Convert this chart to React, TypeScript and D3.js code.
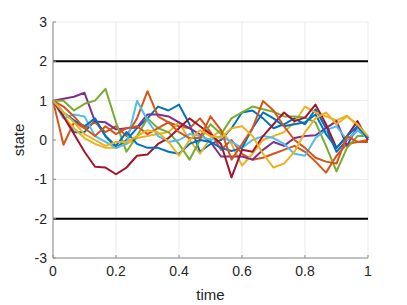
import * as d3 from "d3";

// time grid: 31 samples, step 1/30
const timeSteps = d3.range(31).map((k) => k / 30);

const xTicks = [0, 0.2, 0.4, 0.6, 0.8, 1];
const yTicks = [-3, -2, -1, 0, 1, 2, 3];
const bounds = [2, -2];

const blueA = [1, 0.6, 0.2, 0.2, 0.5, 0.1, -0.2, 0, 0.3, 0.55, 0.85, 0.75, 0.9, 0.4, -0.3, -0.1, 0, 0.3, 0.7, 0.75, 0.55, 0.3, 0.4, 0.55, 0.4, 0.78, 0.3, -0.3, 0, 0.25, 0.05];
const orangeA = [1, -0.12, 0.45, 0.3, 0.45, 0.2, 0.35, 0.1, 0.55, 1.24, 0.6, 0.45, 0.35, 0.3, 0.55, 0.2, -0.25, 0, -0.35, -0.5, -0.45, -0.35, -0.25, -0.15, -0.3, -0.55, -0.83, -0.4, -0.1, -0.05, 0];
const yellowA = [1, 0.6, 0.3, 0.05, -0.1, -0.2, -0.2, -0.1, 0.05, 0.1, 0.15, 0.2, 0.45, 0, -0.35, 0.05, 0.25, -0.1, -0.65, -0.35, 0, 0.1, 0.2, 0.45, 0.85, 0.7, 0.6, 0.5, 0.62, 0.35, 0.05];
const purple = [1, 1.05, 1.1, 1.2, 0.47, 0.45, 0.27, 0.3, 0.32, 0.65, 0.65, 0.6, 0.45, 0.3, 0.14, -0.05, -0.42, -0.42, -0.42, -0.5, -0.25, -0.05, -0.15, 0.05, 0.1, 0.12, 0.3, 0.48, -0.15, 0.35, 0.06];
const green = [1, 1, 0.75, 0.92, 1, 1.3, 0.45, -0.3, 0.1, 0.55, 0.3, 0.2, -0.1, -0.5, 0, 0.4, 0.15, 0.55, 0.7, 0.85, 0.78, 0.72, 0.6, 0.6, 0.57, 0.45, -0.15, -0.8, -0.2, 0.1, 0.1];
const lightBlue = [1, 0.55, 0.65, 0.6, 0.1, -0.05, -0.2, -0.1, 1, 0.5, 0.1, -0.05, 0, 0.15, 0.1, 0, 0.1, -0.05, -0.2, 0, 0.1, 0.05, -0.1, -0.35, -0.4, 0.05, 0.25, 0.35, 0, 0.25, 0.05];
const darkRed = [1, 0.6, 0.15, -0.3, -0.68, -0.7, -0.87, -0.7, -0.4, -0.37, -0.1, 0.05, 0.3, 0.55, 0.35, 0.15, -0.1, -0.95, -0.25, -0.3, 0.1, 0.4, 0.7, 0.48, 0.57, 0.9, 0.4, -0.2, 0.1, 0.48, 0];
const blueB = [1, 0.7, 0.5, 0.35, 0.55, 0.1, -0.15, 0.2, -0.1, -0.2, -0.2, -0.3, -0.35, -0.1, 0, -0.05, -0.2, -0.28, -0.2, 0.3, 0.7, 0.55, 0.35, 0.4, 0.45, 0.65, 0.15, -0.2, 0.1, 0.35, 0.05];
const orangeB = [1, 0.85, 0.6, 0.3, 0.1, 0.35, 0.15, 0.3, 0.35, 0.15, 0.3, 0.45, 0.2, 0.05, 0.05, 0.6, 0.25, -0.5, -0.1, 0.3, 0.99, 0.75, 0.35, 0, -0.2, -0.45, -0.55, -0.6, 0.1, -0.05, -0.05];
const yellowB = [1, 0.7, 0.45, 0.15, 0, -0.15, -0.05, -0.05, 0.1, 0.25, 0.2, -0.05, -0.4, 0, 0.25, 0.1, 0.05, 0.3, 0.35, 0.1, -0.35, -0.7, -0.6, -0.3, 0.2, 0.55, 0.7, 0.4, 0.6, 0.4, 0.1];

const series = [blueA, orangeA, yellowA, purple, green, lightBlue, darkRed, blueB, orangeB, yellowB];
const colors = ["#0072BD", "#D95319", "#EDB120", "#7E2F8E", "#77AC30", "#4DBEEE", "#A2142F"];

const W = 407;
const H = 305;
const M = { top: 22, right: 39, bottom: 47, left: 53 };

export default function App() {
  const x = d3.scaleLinear().domain([0, 1]).range([M.left, W - M.right]);
  const y = d3.scaleLinear().domain([-3, 3]).range([H - M.bottom, M.top]);
  const line = d3
    .line<number>()
    .x((_, i) => x(timeSteps[i]))
    .y((d) => y(d));

  const font = "'Liberation Sans', Arial, sans-serif";

  return (
    <svg
      width={W}
      height={H}
      style={{ position: "absolute", left: 0, top: 0, background: "#fff" }}
      fontFamily={font}
    >
      {/* grid */}
      {xTicks.map((t) => (
        <line key={"gx" + t} x1={x(t)} x2={x(t)} y1={y(3)} y2={y(-3)} stroke="#ebebeb" strokeWidth={1} />
      ))}
      {yTicks.map((t) => (
        <line key={"gy" + t} x1={x(0)} x2={x(1)} y1={y(t)} y2={y(t)} stroke="#ebebeb" strokeWidth={1} />
      ))}

      {/* walks */}
      {series.map((s, i) => (
        <path
          key={i}
          d={line(s) ?? ""}
          fill="none"
          stroke={colors[i % colors.length]}
          strokeWidth={2}
          strokeLinejoin="round"
        />
      ))}

      {/* bounds */}
      {bounds.map((b) => (
        <line key={"b" + b} x1={x(0)} x2={x(1)} y1={y(b)} y2={y(b)} stroke="#000" strokeWidth={2} />
      ))}

      {/* axes */}
      <line x1={x(0)} x2={x(0)} y1={y(3)} y2={y(-3)} stroke="#8c8c8c" strokeWidth={1} />
      <line x1={x(0)} x2={x(1)} y1={y(-3)} y2={y(-3)} stroke="#8c8c8c" strokeWidth={1} />
      {yTicks.map((t) => (
        <g key={"ty" + t}>
          <line x1={x(0)} x2={x(0) + 3} y1={y(t)} y2={y(t)} stroke="#8c8c8c" />
          <text x={x(0) - 6} y={y(t)} dy="0.35em" textAnchor="end" fontSize={14} fill="#262626">
            {t}
          </text>
        </g>
      ))}
      {xTicks.map((t) => (
        <g key={"tx" + t}>
          <line x1={x(t)} x2={x(t)} y1={y(-3)} y2={y(-3) - 3} stroke="#8c8c8c" />
          <text x={x(t)} y={y(-3) + 18} textAnchor="middle" fontSize={14} fill="#262626">
            {t}
          </text>
        </g>
      ))}
      <text x={x(0.5)} y={H - 5} textAnchor="middle" fontSize={15} fill="#262626">
        time
      </text>
      <text
        transform={`translate(24, ${y(0)}) rotate(-90)`}
        textAnchor="middle"
        fontSize={15}
        fill="#262626"
      >
        state
      </text>
    </svg>
  );
}
